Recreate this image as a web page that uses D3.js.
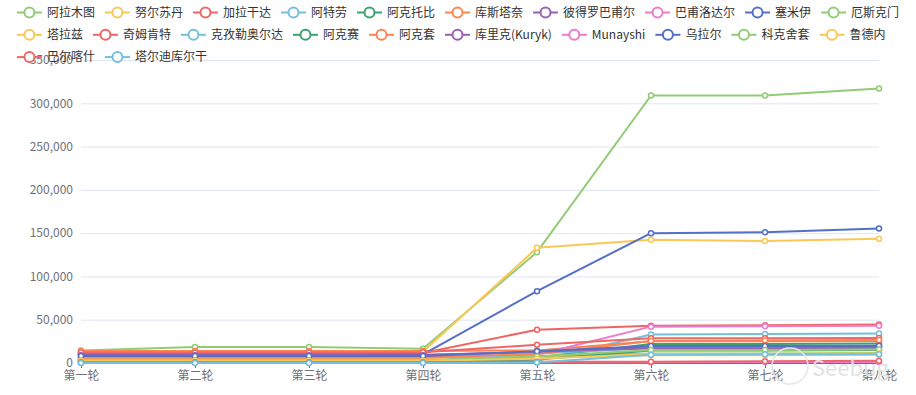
<!DOCTYPE html>
<html>
<head>
<meta charset="utf-8">
<script src="https://cdn.jsdelivr.net/npm/d3@7/dist/d3.min.js"></script>
<style>
  body { margin: 0; background: #fff; }
  svg text { font-family: "Noto Sans CJK SC", "Noto Sans", sans-serif; }
</style>
</head>
<body>
<div id="chart"></div>
<script>
// rounds on the x axis
const rounds = ["第一轮", "第二轮", "第三轮", "第四轮", "第五轮", "第六轮", "第七轮", "第八轮"];
const yTicks = [0, 50000, 100000, 150000, 200000, 250000, 300000, 350000];

const cities = ["阿拉木图", "努尔苏丹", "加拉干达", "阿特劳", "阿克托比", "库斯塔奈", "彼得罗巴甫尔",
  "巴甫洛达尔", "塞米伊", "厄斯克门", "塔拉兹", "奇姆肯特", "克孜勒奥尔达", "阿克赛", "阿克套",
  "库里克(Kuryk)", "Munayshi", "乌拉尔", "科克舍套", "鲁德内", "巴尔喀什", "塔尔迪库尔干"];

const almaty      = [14500, 18500, 18500, 16500, 128000, 309000, 309000, 317000];
const nursultan   = [13000, 13000, 13000, 13000, 133000, 142500, 141000, 143500];
const karaganda   = [11500, 11500, 11500, 11500, 38500, 43000, 43500, 44500];
const atyrau      = [1000, 1000, 1000, 1000, 2500, 33000, 33500, 34000];
const aktobe      = [3500, 3500, 3500, 3500, 6500, 22000, 22000, 22500];
const kostanay    = [14000, 14000, 14000, 14000, 14500, 25000, 25000, 25500];
const petropavl   = [9500, 9500, 9500, 9500, 12500, 18500, 19000, 19500];
const pavlodar    = [7000, 7000, 7000, 7000, 9500, 42000, 42500, 43000];
const semey       = [10000, 10000, 10000, 10000, 83000, 150000, 151000, 155500];
const oskemen     = [5000, 5000, 5000, 5000, 8000, 11000, 11000, 11500];
const taraz       = [4500, 4500, 4500, 4500, 6000, 9000, 9000, 9500];
const shymkent    = [12000, 12000, 12000, 12500, 21000, 28500, 28500, 29000];
const kyzylorda   = [2000, 2000, 2000, 2000, 11000, 17000, 17000, 17500];
const aksay       = [1500, 1500, 1500, 1500, 4000, 14500, 14500, 15000];
const aktau       = [6000, 6000, 6000, 6000, 10500, 25500, 26000, 26500];
const kuryk       = [9000, 9000, 9000, 9000, 13000, 17000, 17000, 17500];
const munayshi    = [500, 500, 500, 500, 1000, 1000, 1200, 1200];
const uralsk      = [8000, 8000, 8000, 8000, 13500, 19500, 19500, 20000];
const kokshetau   = [3000, 3000, 3000, 3000, 7500, 15000, 15000, 15500];
const rudny       = [2500, 2500, 2500, 2500, 5000, 10500, 10500, 11000];
const balkhash    = [1000, 1000, 1000, 1000, 1500, 1500, 2000, 2500];
const taldykorgan = [0, 0, 0, 0, 500, 9500, 10000, 10000];

const seriesValues = [almaty, nursultan, karaganda, atyrau, aktobe, kostanay, petropavl,
  pavlodar, semey, oskemen, taraz, shymkent, kyzylorda, aksay, aktau,
  kuryk, munayshi, uralsk, kokshetau, rudny, balkhash, taldykorgan];

const palette = ["#91cc75", "#fac858", "#ee6666", "#73c0de", "#3ba272", "#fc8452", "#9a60b4", "#ea7ccc", "#5470c6"];

const W = 916, H = 395;
const svg = d3.select("#chart").append("svg").attr("width", W).attr("height", H);

const x = d3.scalePoint().domain(rounds).range([81, 879]);
const y = d3.scaleLinear().domain([0, 350000]).range([363, 60]);

// grid
svg.append("g").selectAll("line").data(yTicks.slice(1)).join("line")
  .attr("x1", 81).attr("x2", 879)
  .attr("y1", d => y(d) + 0.5).attr("y2", d => y(d) + 0.5)
  .attr("stroke", "#E0E6F1");

// y axis labels
const yAxis = svg.append("g").attr("transform", "translate(81,0)")
  .call(d3.axisLeft(y).tickValues(yTicks).tickFormat(d3.format(",")).tickSize(0).tickPadding(8));
yAxis.select(".domain").remove();
yAxis.selectAll("text").attr("fill", "#6E7079").style("font-size", "12px");

// x axis
const xAxis = svg.append("g").attr("transform", "translate(0,363)")
  .call(d3.axisBottom(x).tickSize(5).tickPadding(3).tickSizeOuter(0));
xAxis.select(".domain").attr("stroke", "#6E7079");
xAxis.selectAll("line").attr("stroke", "#6E7079");
xAxis.selectAll("text").attr("fill", "#6E7079").style("font-size", "12px");

// lines
const line = d3.line().x((d, i) => x(rounds[i])).y(d => y(d));
const series = cities.map((name, i) => ({ name, values: seriesValues[i], color: palette[i % palette.length] }));

const gSeries = svg.append("g").selectAll("g").data(series).join("g");
gSeries.append("path")
  .attr("d", d => line(d.values))
  .attr("fill", "none")
  .attr("stroke", d => d.color)
  .attr("stroke-width", 2)
  .attr("stroke-linejoin", "round");
gSeries.selectAll("circle").data(d => d.values.map((v, i) => ({ v, i, color: d.color }))).join("circle")
  .attr("cx", d => x(rounds[d.i]))
  .attr("cy", d => y(d.v))
  .attr("r", 2.5)
  .attr("fill", "#fff")
  .attr("stroke", d => d.color)
  .attr("stroke-width", 1.5);

// watermark
svg.append("circle").attr("cx", 790).attr("cy", 366).attr("r", 18)
  .attr("fill", "none").attr("stroke", "#e6e6e6").attr("stroke-width", 1.5);
svg.append("text").attr("x", 812).attr("y", 376).text("Seebug")
  .attr("fill", "#e3e3e3").style("font-size", "22px");

// legend, wrapped rows like echarts
const legend = svg.append("g");
const items = legend.selectAll("g").data(series).join("g");
items.append("line").attr("x1", 0).attr("x2", 25).attr("y1", 0).attr("y2", 0)
  .attr("stroke", d => d.color).attr("stroke-width", 2);
items.append("circle").attr("cx", 12.5).attr("cy", 0).attr("r", 5)
  .attr("fill", "#fff").attr("stroke", d => d.color).attr("stroke-width", 2);
items.append("text").attr("x", 30).attr("y", 0).attr("dy", "0.35em")
  .attr("fill", "#333").style("font-size", "12px").text(d => d.name);

const maxW = W - 20;
let cx = 0, row = 0, rowW = [0];
const pos = [];
items.each(function () {
  const w = 30 + this.querySelector("text").getComputedTextLength();
  if (cx > 0 && cx + w > maxW) { row++; cx = 0; rowW.push(0); }
  pos.push([cx, row]);
  rowW[row] = cx + w;
  cx += w + 10;
});
const blockW = d3.max(rowW);
const left = (W - blockW) / 2;
items.attr("transform", (d, i) => `translate(${left + pos[i][0]},${12.5 + pos[i][1] * 22.3})`);
</script>
</body>
</html>
